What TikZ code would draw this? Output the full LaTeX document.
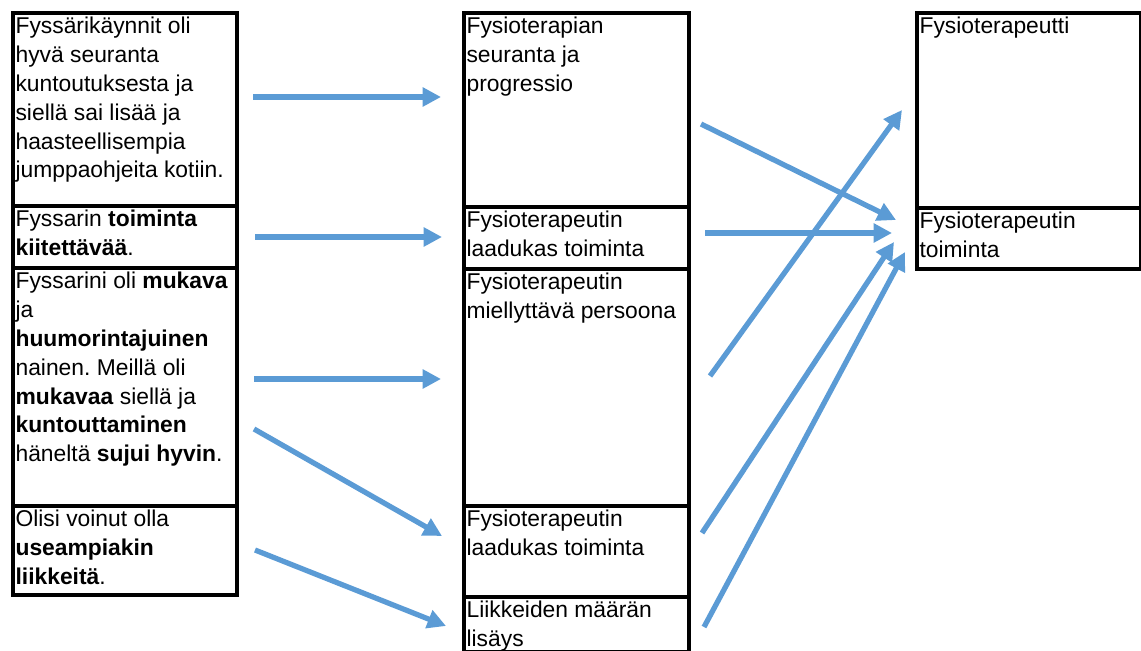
\documentclass[tikz,border=0pt]{standalone}
\usepackage{fontspec}
\setmainfont{Liberation Sans}
\usetikzlibrary{arrows.meta}
\definecolor{linkblue}{HTML}{5B9BD5}
\frenchspacing
\newlength{\pxl}
\setlength{\pxl}{0.02cm}
% text of one cell, set from its top left corner
\newcommand{\celltext}[3]{\parbox[t][#2\pxl][t]{#1\pxl}{\raggedright #3}}

\tikzset{
  cell/.style={draw, line width=2.2pt, anchor=north west, inner xsep=1.5pt, inner ysep=2.5pt,
    font=\fontsize{13}{16.4}\selectfont},
  link/.style={linkblue, line width=3pt, -{Triangle[length=10.5pt,width=10.5pt]}}
}

\begin{document}
\begin{tikzpicture}[x=0.02cm, y=-0.02cm]
    \useasboundingbox (0,0) rectangle (1141,651);
    % left column: answers
    \node[cell] (l1) at (11,11)  {\celltext{219}{184}{Fyssärikäynnit oli\\ hyvä seuranta\\ kuntoutuksesta ja\\ siellä sai lisää ja\\ haasteellisempia\\ jumppaohjeita kotiin.}};
    \node[cell] (l2) at (11,204) {\celltext{219}{53}{Fyssarin \textbf{toiminta}\\ \textbf{kiitettävää}.}};
    \node[cell] (l3) at (11,266) {\celltext{219}{229}{Fyssarini oli \textbf{mukava}\\ ja\\ \textbf{huumorintajuinen}\\ nainen. Meillä oli\\ \textbf{mukavaa} siellä ja\\ \textbf{kuntouttaminen}\\ häneltä \textbf{sujui hyvin}.}};
    \node[cell] (l4) at (11,504) {\celltext{219}{80}{Olisi voinut olla\\ \textbf{useampiakin}\\ \textbf{liikkeitä}.}};
    % middle column: reduced expressions
    \node[cell] (m1) at (462,11)  {\celltext{220}{185}{Fysioterapian\\ seuranta ja\\ progressio}};
    \node[cell] (m2) at (462,205) {\celltext{220}{53}{Fysioterapeutin\\ laadukas toiminta}};
    \node[cell] (m3) at (462,267) {\celltext{220}{228}{Fysioterapeutin\\ miellyttävä persoona}};
    \node[cell] (m4) at (462,504) {\celltext{220}{82}{Fysioterapeutin\\ laadukas toiminta}};
    \node[cell] (m5) at (462,595) {\celltext{220}{46}{Liikkeiden määrän\\ lisäys}};
    % right column: categories
    \node[cell] (r1) at (915,11)  {\celltext{219}{186}{Fysioterapeutti}};
    \node[cell] (r2) at (915,206) {\celltext{219}{52}{Fysioterapeutin\\ toiminta}};
    % arrow ends
    \coordinate (a1s) at (253,97);  \coordinate (a1e) at (441,97);
    \coordinate (a2s) at (255,237); \coordinate (a2e) at (442,237);
    \coordinate (a3s) at (254,379); \coordinate (a3e) at (441,379);
    \coordinate (a4s) at (254,429); \coordinate (a4e) at (442,536);
    \coordinate (a5s) at (255,550); \coordinate (a5e) at (446,626);
    \coordinate (b1s) at (701,124); \coordinate (b1e) at (896,220);
    \coordinate (b2s) at (705,233); \coordinate (b2e) at (892,233);
    \coordinate (b3s) at (710,376); \coordinate (b3e) at (902,110);
    \coordinate (b4s) at (702,533); \coordinate (b4e) at (894,242);
    \coordinate (b5s) at (704,627); \coordinate (b5e) at (905,252);
    % left to middle
    \draw[link] (a1s) -- (a1e);
    \draw[link] (a2s) -- (a2e);
    \draw[link] (a3s) -- (a3e);
    \draw[link] (a4s) -- (a4e);
    \draw[link] (a5s) -- (a5e);
    % middle to right
    \draw[link] (b1s) -- (b1e);
    \draw[link] (b2s) -- (b2e);
    \draw[link] (b3s) -- (b3e);
    \draw[link] (b4s) -- (b4e);
    \draw[link] (b5s) -- (b5e);
\end{tikzpicture}
\end{document}
